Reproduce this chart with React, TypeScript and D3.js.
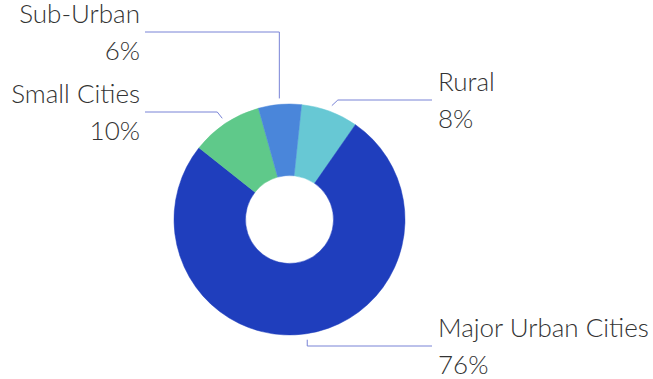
import React from "react";
import * as d3 from "d3";

const categories = ["Rural", "Major Urban Cities", "Small Cities", "Sub-Urban"];
const values = [8, 76, 10, 6];
const colors = ["#67c8d4", "#1f3ebd", "#5fc98a", "#4a86da"];

// label layout (positions only)
const labelSide = [1, 1, -1, -1];
const labelLineY = [100, 346, 112, 32];
const elbowDx = [6, 0, -5, 0];

const W = 653;
const H = 379;
const cx = 289.5;
const cy = 219.5;
const R = 115.5;
const r0 = 44;
const startDeg = 6;

export default function App() {
  const pie = d3
    .pie<number>()
    .sort(null)
    .value((d) => d)
    .startAngle((startDeg * Math.PI) / 180)
    .endAngle(((startDeg + 360) * Math.PI) / 180);
  const arcs = pie(values);
  const arc = d3.arc<d3.PieArcDatum<number>>().innerRadius(r0).outerRadius(R);
  const font = "Lato, 'Source Sans Pro', sans-serif";

  return (
    <svg width={W} height={H} style={{ position: "absolute", left: 0, top: 0 }}>
      <g transform={`translate(${cx},${cy})`}>
        {arcs.map((a, i) => (
          <path key={i} d={arc(a) || ""} fill={colors[i]} stroke={colors[i]} strokeWidth={0.5} />
        ))}
      </g>
      {arcs.map((a, i) => {
        const mid = (a.startAngle + a.endAngle) / 2;
        const px = cx + Math.sin(mid) * (R + 6);
        const py = cy - Math.cos(mid) * (R + 6);
        const ly = labelLineY[i];
        const ex = px + elbowDx[i];
        const side = labelSide[i];
        const lineEnd = side > 0 ? 432 : 145;
        const textX = side > 0 ? 438 : 140;
        const pts: [number, number][] = [
          [px, py],
          [ex, ly],
          [lineEnd, ly],
        ];
        return (
          <g key={i}>
            <path
              d={d3.line()(pts) || ""}
              fill="none"
              stroke="#7883d6"
              strokeWidth={1}
            />
            <text
              x={textX}
              y={ly - 9}
              textAnchor={side > 0 ? "start" : "end"}
              fontFamily={font}
              fontWeight={300}
              fontSize={26}
              fill="#333"
            >
              {categories[i]}
            </text>
            <text
              x={textX}
              y={ly + 28}
              textAnchor={side > 0 ? "start" : "end"}
              fontFamily={font}
              fontWeight={300}
              fontSize={26}
              fill="#333"
            >
              {values[i]}%
            </text>
          </g>
        );
      })}
    </svg>
  );
}
